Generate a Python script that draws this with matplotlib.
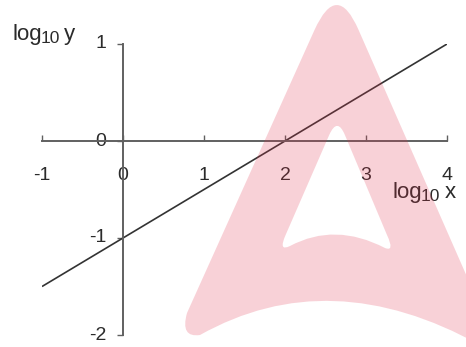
import matplotlib

matplotlib.use("Agg")
import matplotlib.pyplot as plt
from matplotlib.patches import PathPatch
from matplotlib.path import Path

# log10 y = 0.5 * log10 x - 1
LINE_X = [-1.0, 4.0]
LINE_Y = [-1.5, 1.0]
X_TICKS = [-1, 0, 1, 2, 3, 4]
Y_TICKS = [-2, -1, 0, 1]

W, H = 466, 347
TEXT = "#2b2b2b"
AXIS = "#606060"

plt.rcParams["font.family"] = ["Liberation Sans", "DejaVu Sans"]


def px(x, y):
    """pixel position (origin top-left) -> figure fraction"""
    return (x / W, 1 - y / H)


fig = plt.figure(figsize=(W / 100, H / 100), dpi=100)
ax = fig.add_axes([42 / W, 12 / H, 405 / W, 291 / H])
ax.set_xlim(-1, 4)
ax.set_ylim(-2, 1)

ax.plot(LINE_X, LINE_Y, color="#333333", lw=1.2, solid_capstyle="butt")

for side in ("top", "right"):
    ax.spines[side].set_visible(False)
ax.spines["left"].set_position(("data", 0))
ax.spines["bottom"].set_position(("data", 0))
for side in ("left", "bottom"):
    ax.spines[side].set_color(AXIS)
    ax.spines[side].set_linewidth(1.4)
ax.spines["bottom"].set_bounds(-1, 4)
ax.spines["left"].set_bounds(-2, 1)

ax.set_xticks(X_TICKS)
ax.set_yticks(Y_TICKS)
ax.set_xticklabels([str(v) for v in X_TICKS])
ax.set_yticklabels([str(v) for v in Y_TICKS])
ax.tick_params(axis="x", direction="in", length=4, width=1.0, color=AXIS,
               pad=18.5, labelsize=14, labelcolor=TEXT)
ax.tick_params(axis="y", direction="out", length=4, width=1.0, color=AXIS,
               pad=8, labelsize=14, labelcolor=TEXT)
for lab in ax.get_yticklabels():
    lab.set_verticalalignment("center")

# axis titles: "log" + subscript "10" + variable
for (x0, x1, x2, base, var) in [(13, 41, 64, 40, "y"), (392, 421, 445, 198, "x")]:
    fig.text(*px(x0, base), "log", fontsize=16, color=TEXT, va="baseline")
    fig.text(*px(x1, base + 3), "10", fontsize=12.5, color=TEXT, va="baseline")
    fig.text(*px(x2, base), var, fontsize=16, color=TEXT, va="baseline")

# pink watermark laid over the figure
M, L, C = Path.MOVETO, Path.LINETO, Path.CURVE3
outer = [
    (px(314.5, 30), M),
    (px(187, 313), L),
    (px(180, 338), C), (px(200, 335), C),
    (px(330, 262), C), (px(480, 345), C),
    (px(497, 345), L),
    (px(358.6, 30), L),
    (px(337, -20), C), (px(314.5, 30), C),
]
inner = [
    (px(329.2, 135), M),
    (px(337.3, 116.7), C), (px(344.9, 135), C),
    (px(387, 235), L),
    (px(395, 252), C), (px(385, 248), C),
    (px(335, 222), C), (px(290, 246), C),
    (px(278, 252), C), (px(285.6, 235), C),
    (px(329.2, 135), L),
]
verts = [v for v, _ in outer + inner]
codes = [c for _, c in outer + inner]
mark = PathPatch(Path(verts, codes), transform=fig.transFigure,
                 facecolor="#e0304a", edgecolor="none", alpha=0.22, zorder=10)
fig.patches.append(mark)

fig.savefig("out.png", dpi=100)
